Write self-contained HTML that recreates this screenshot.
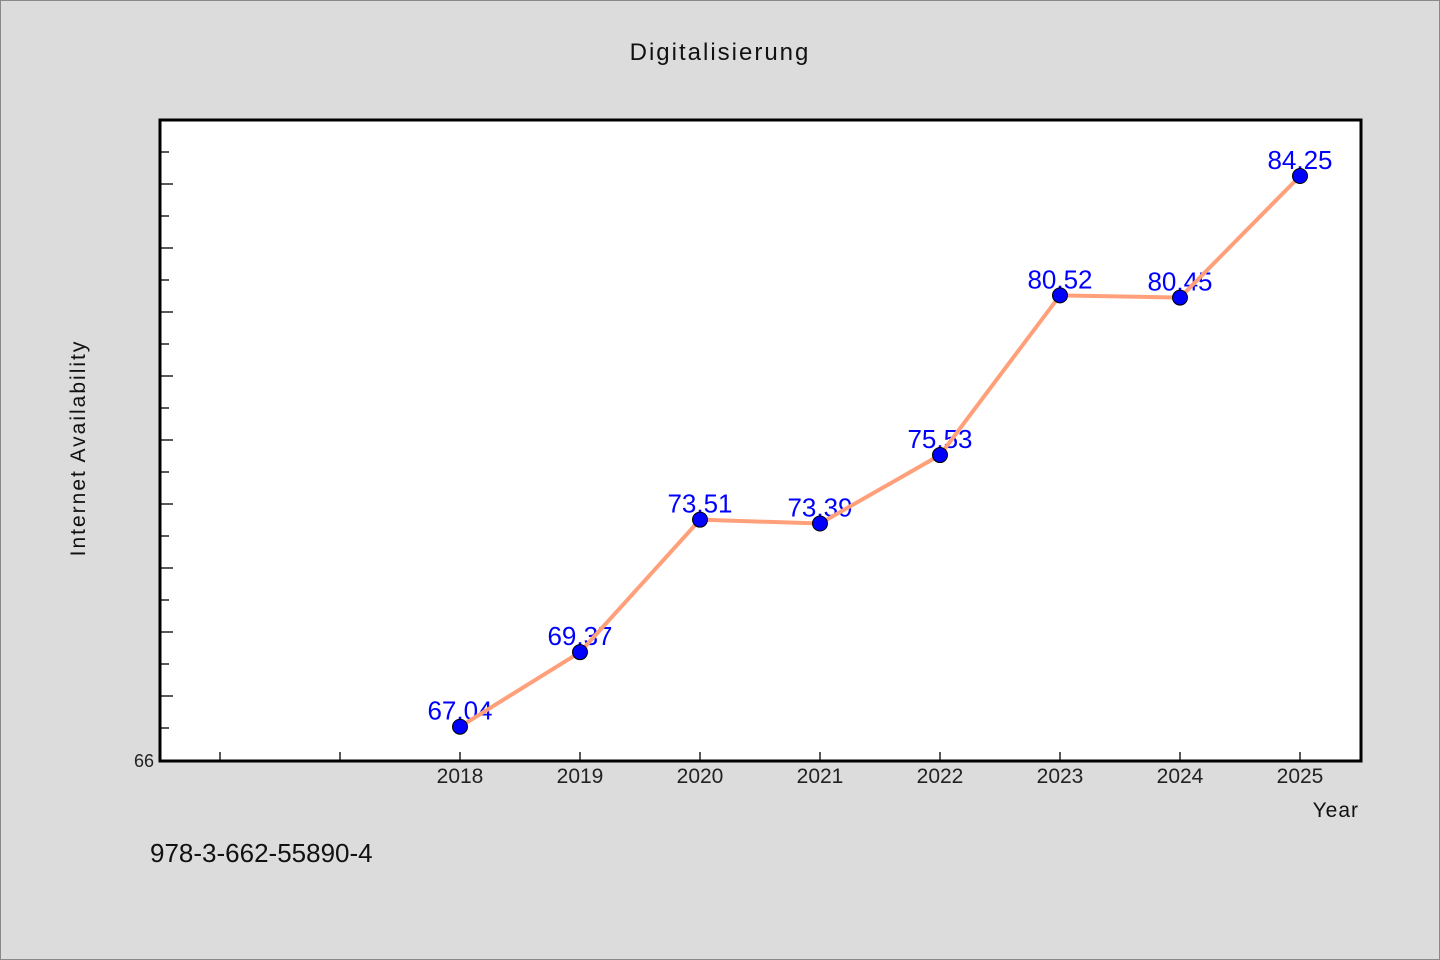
<!DOCTYPE html>
<html><head><meta charset="utf-8"><style>
html,body{margin:0;padding:0;background:#dcdcdc;}
svg{display:block;font-family:"Liberation Sans","WenQuanYi Zen Hei",sans-serif;}
</style></head><body>
<svg width="1440" height="960">
<rect x="0.5" y="0.5" width="1439" height="959" fill="#dcdcdc" stroke="#888"/>
<text x="720" y="60" text-anchor="middle" font-size="24" letter-spacing="2" fill="#111">Digitalisierung</text>
<rect x="160" y="120" width="1201" height="641" fill="#fff"/>
<g id="ticks"></g>
<g id="labels"></g>
<g id="series"></g>
<rect x="160" y="120" width="1201" height="641" fill="none" stroke="#000" stroke-width="3"/>
<text x="154" y="767" text-anchor="end" font-size="18" fill="#222">66</text>
<text x="85" y="448" text-anchor="middle" font-size="21" letter-spacing="2" fill="#111" transform="rotate(-90 85 448)">Internet Availability</text>
<text x="1359" y="817" text-anchor="end" font-size="21" letter-spacing="1" fill="#111">Year</text>
<text x="150" y="862" font-size="26" fill="#111">978-3-662-55890-4</text>
</svg>
<script>
const years=[2018,2019,2020,2021,2022,2023,2024,2025];
const values=[67.04,69.37,73.51,73.39,75.53,80.52,80.45,84.25];
const labels=["67.04","69.37","73.51","73.39","75.53","80.52","80.45","84.25"];
const xTicks=[2016,2017,2018,2019,2020,2021,2022,2023,2024,2025];
const yTicks=[67,68,69,70,71,72,73,74,75,76,77,78,79,80,81,82,83,84,85];
const NS="http://www.w3.org/2000/svg";
const xs=y=>460+(y-2018)*120;
const ys=v=>760-(v-66)*32;
function mk(t,a,p){const e=document.createElementNS(NS,t);for(const k in a)e.setAttribute(k,a[k]);document.getElementById(p).appendChild(e);return e;}
xTicks.forEach(t=>{
 const l=mk('line',{x1:xs(t),x2:xs(t),y1:760,y2:752,stroke:'#222','stroke-width':1.5},'ticks');
 
 
 if(t>=2018){const tx=mk('text',{x:xs(t),y:783,'text-anchor':'middle','font-size':21,fill:'#222'},'ticks');tx.textContent=t;
 
 }
});
yTicks.forEach(t=>{
 const l=mk('line',{x1:161,x2:t%2===0?173:169,y1:ys(t),y2:ys(t),stroke:'#222','stroke-width':1.5},'ticks');
 
 
});
values.forEach((v,i)=>{
 const t=mk('text',{x:xs(years[i]),y:ys(v)-7,'text-anchor':'middle','font-size':26,fill:'#0000ff'},'labels');
 t.textContent=labels[i];
 
 
});
const pl=mk('polyline',{points:values.map((v,i)=>xs(years[i])+','+ys(v)).join(' '),fill:'none',stroke:'#ffa07a','stroke-width':4},'series');


values.forEach((v,i)=>{
 const c=mk('circle',{cx:xs(years[i]),cy:ys(v),r:7.5,fill:'#0000ff',stroke:'#000','stroke-width':1},'series');
 
 
});
</script>
</body></html>
